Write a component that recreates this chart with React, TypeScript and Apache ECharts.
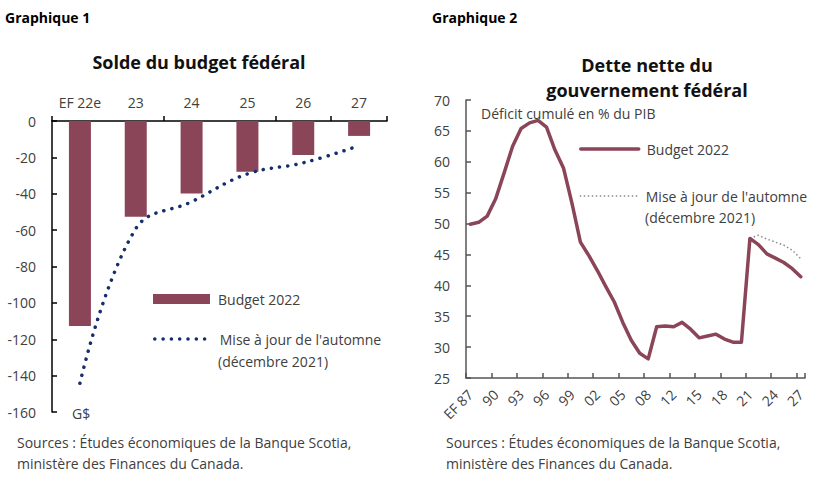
import React, { useEffect, useRef } from "react";
import * as echarts from "echarts";

// ---- Graphique 1 : Solde du budget fédéral (G$) ----
const balanceCategories = ["EF 22e", "23", "24", "25", "26", "27"];
const balanceBudget2022 = [-112.7, -52.6, -39.8, -27.9, -18.7, -8.2];
const balanceFallUpdate = [-144.2, -59.2, -44.4, -29.1, -23.0, -13.6];

// ---- Graphique 2 : Dette nette du gouvernement fédéral (% du PIB) ----
const debtYears = [
  "EF 87", "88", "89", "90", "91", "92", "93", "94", "95", "96",
  "97", "98", "99", "00", "01", "02", "03", "04", "05", "06",
  "07", "08", "10", "11", "12", "13", "14", "15", "16", "17",
  "18", "19", "20", "21", "22", "23", "24", "25", "26", "27",
];
const debtBudget2022 = [
  49.9, 50.2, 51.2, 54.0, 58.2, 62.5, 65.4, 66.3, 66.7, 65.6,
  61.9, 59.0, 53.3, 47.0, 44.8, 42.4, 39.8, 37.3, 34.0, 31.1,
  29.0, 28.1, 33.3, 33.4, 33.3, 34.0, 32.9, 31.5, 31.8, 32.1,
  31.3, 30.8, 30.8, 47.6, 46.6, 45.1, 44.4, 43.7, 42.7, 41.4,
];
const debtFallUpdateYears = ["21", "22", "23", "24", "25", "26", "27"];
const debtFallUpdate = [47.6, 48.1, 47.5, 47.0, 46.5, 45.7, 44.3];

const legendNames: Record<string, string> = {
  "solde-budget": "Budget 2022",
  "solde-maj": "Mise à jour de l'automne",
  "dette-budget": "Budget 2022",
  "dette-maj": "Mise à jour de l'automne",
};

const MAROON = "#8b4558";
const NAVY = "#142d6b";
const GREY_DOT = "#8a8a8a";
const TEXT = "#404040";
const FONT = "'Open Sans', 'Noto Sans', sans-serif";

export default function App() {
  const ref = useRef<HTMLDivElement>(null);

  useEffect(() => {
    if (!ref.current) return;
    const chart = echarts.init(ref.current, undefined, { renderer: "svg" });

    const legendBase = {
      orient: "horizontal" as const,
      padding: 0,
      selectedMode: false,
      itemHeight: 10,
      formatter: (n: string) => legendNames[n] ?? n,
      textStyle: { color: TEXT, fontSize: 14, fontFamily: FONT, lineHeight: 18, padding: [0, 0, 0, 3] },
    };

    const txt = (text: string, x: number, y: number, opts: any = {}) => ({
      type: "text",
      x,
      y,
      style: {
        text,
        fill: opts.fill ?? TEXT,
        font: `${opts.weight ?? "normal"} ${opts.size ?? 14}px ${FONT}`,
        textAlign: opts.align ?? "left",
        textVerticalAlign: "middle",
      },
    });

    chart.setOption({
      animation: false,
      backgroundColor: "#ffffff",
      textStyle: { fontFamily: FONT },
      grid: [
        { left: 52, top: 121, width: 335, height: 291 },
        { left: 466, top: 100, width: 339, height: 278 },
      ],
      xAxis: [
        {
          gridIndex: 0,
          type: "category",
          data: balanceCategories,
          position: "top",
          boundaryGap: true,
          axisLine: { onZero: false, lineStyle: { color: "#000", width: 1.5 } },
          axisTick: { show: true, interval: 1, length: 5, lineStyle: { color: "#000", width: 1.5 } },
          axisLabel: { interval: 0, margin: 12, color: TEXT, fontSize: 14, fontFamily: FONT },
          splitLine: { show: false },
        },
        {
          gridIndex: 1,
          type: "category",
          data: debtYears,
          boundaryGap: true,
          axisLine: { onZero: false, lineStyle: { color: "#555", width: 1.5 } },
          axisTick: { show: true, inside: true, interval: 2, length: 5, lineStyle: { color: "#555", width: 1.5 } },
          axisLabel: { interval: 2, rotate: 45, margin: 14, color: TEXT, fontSize: 14, fontFamily: FONT },
          splitLine: { show: false },
        },
      ],
      yAxis: [
        {
          gridIndex: 0,
          type: "value",
          min: -160,
          max: 0,
          interval: 20,
          axisLine: { show: true, lineStyle: { color: "#000", width: 1.5 } },
          axisTick: { show: true, inside: true, length: 5, lineStyle: { color: "#000", width: 1.5 } },
          axisLabel: { margin: 16, color: TEXT, fontSize: 14, fontFamily: FONT },
          splitLine: { show: false },
        },
        {
          gridIndex: 1,
          type: "value",
          min: 25,
          max: 70,
          interval: 5,
          axisLine: { show: true, lineStyle: { color: "#555", width: 1.5 } },
          axisTick: { show: true, inside: true, length: 5, lineStyle: { color: "#555", width: 1.5 } },
          axisLabel: { margin: 16, color: TEXT, fontSize: 14, fontFamily: FONT },
          splitLine: { show: false },
        },
      ],
      legend: [
        { ...legendBase, data: ["solde-budget"], left: 153, top: 290, itemWidth: 57, icon: "rect" },
        {
          ...legendBase,
          data: ["solde-maj"],
          left: 153,
          top: 330,
          itemWidth: 57,
          itemStyle: { opacity: 0 },
          lineStyle: { color: NAVY, width: 3.5, type: [0.1, 8.2], cap: "round" },
        },
        {
          ...legendBase,
          data: ["dette-budget"],
          left: 579,
          top: 140,
          itemWidth: 58,
          itemStyle: { opacity: 0 },
          lineStyle: { color: MAROON, width: 3.5, cap: "round" },
        },
        {
          ...legendBase,
          data: ["dette-maj"],
          left: 579,
          top: 187,
          itemWidth: 58,
          itemStyle: { opacity: 0 },
          lineStyle: { color: GREY_DOT, width: 1.5, type: [1.5, 2.5] },
        },
      ],
      series: [
        {
          name: "solde-budget",
          type: "bar",
          xAxisIndex: 0,
          yAxisIndex: 0,
          data: balanceBudget2022,
          barWidth: 22,
          itemStyle: { color: MAROON },
          z: 2,
        },
        {
          name: "solde-maj",
          type: "line",
          xAxisIndex: 0,
          yAxisIndex: 0,
          data: balanceFallUpdate,
          smooth: 0.4,
          symbol: "none",
          lineStyle: { color: NAVY, width: 3.5, type: [0.1, 8.2], cap: "round" },
          itemStyle: { color: NAVY },
          z: 3,
        },
        {
          name: "dette-budget",
          type: "line",
          xAxisIndex: 1,
          yAxisIndex: 1,
          data: debtBudget2022,
          symbol: "none",
          lineStyle: { color: MAROON, width: 3.5, cap: "round", join: "round" },
          itemStyle: { color: MAROON },
          z: 3,
        },
        {
          name: "dette-maj",
          type: "line",
          xAxisIndex: 1,
          yAxisIndex: 1,
          data: debtFallUpdateYears.map((y, i) => [y, debtFallUpdate[i]]),
          symbol: "none",
          lineStyle: { color: GREY_DOT, width: 1.5, type: [1.5, 2.5] },
          itemStyle: { color: GREY_DOT },
          z: 2,
        },
      ],
      graphic: [
        txt("Graphique 1", 5, 17, { weight: "bold", size: 14, fill: "#000" }),
        txt("Graphique 2", 432, 17, { weight: "bold", size: 14, fill: "#000" }),
        txt("Solde du budget fédéral", 199, 62, { weight: "bold", size: 18, fill: "#111", align: "center" }),
        txt("Dette nette du", 647, 65, { weight: "bold", size: 18, fill: "#111", align: "center" }),
        txt("gouvernement fédéral", 647, 90, { weight: "bold", size: 18, fill: "#111", align: "center" }),
        txt("G$", 72, 413, { size: 14 }),
        txt("Déficit cumulé en % du PIB", 481, 113, { size: 14 }),
        txt("(décembre 2021)", 218, 361, { size: 14 }),
        txt("(décembre 2021)", 645, 217, { size: 14 }),
        txt("Sources : Études économiques de la Banque Scotia,", 17, 442, { size: 14 }),
        txt("ministère des Finances du Canada.", 17, 463, { size: 14 }),
        txt("Sources : Études économiques de la Banque Scotia,", 446, 442, { size: 14 }),
        txt("ministère des Finances du Canada.", 446, 463, { size: 14 }),
      ],
    });

    return () => chart.dispose();
  }, []);

  return (
    <div
      ref={ref}
      style={{ position: "fixed", left: 0, top: 0, width: 828, height: 483, background: "#fff" }}
    />
  );
}
